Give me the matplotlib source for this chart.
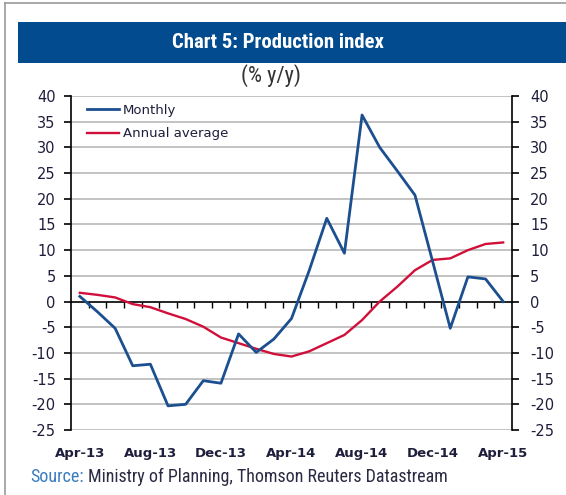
import matplotlib
matplotlib.use("Agg")
import matplotlib.pyplot as plt
from matplotlib.patches import Rectangle
from matplotlib.lines import Line2D
from matplotlib import font_manager
import numpy as np

months = ["Apr-13", "May-13", "Jun-13", "Jul-13", "Aug-13", "Sep-13", "Oct-13", "Nov-13",
          "Dec-13", "Jan-14", "Feb-14", "Mar-14", "Apr-14", "May-14", "Jun-14", "Jul-14",
          "Aug-14", "Sep-14", "Oct-14", "Nov-14", "Dec-14", "Jan-15", "Feb-15", "Mar-15", "Apr-15"]
monthly = [1.0, -2.0, -5.2, -12.5, -12.2, -20.3, -20.0, -15.4, -15.9, -6.3, -9.9, -7.3, -3.3,
           6.0, 16.2, 9.4, 36.3, 30.0, 25.4, 20.7, 7.8, -5.2, 4.8, 4.4, 0.0]
annual = [1.7, 1.3, 0.8, -0.5, -1.1, -2.3, -3.4, -4.9, -7.0, -8.1, -9.2, -10.2, -10.7,
          -9.7, -8.1, -6.5, -3.6, 0.0, 2.9, 6.1, 8.1, 8.4, 10.0, 11.2, 11.5]
label_months = ["Apr-13", "Aug-13", "Dec-13", "Apr-14", "Aug-14", "Dec-14", "Apr-15"]
yticks = list(range(-25, 45, 5))

# pick a condensed / narrow font if one is installed
cond_name = None
cond_stretch = "normal"
names = {f.name for f in font_manager.fontManager.ttflist}
for pref in ["Roboto Condensed", "Liberation Sans Narrow", "Open Sans Condensed",
             "DejaVu Sans Condensed", "Noto Sans Condensed", "Arial Narrow"]:
    if pref in names:
        cond_name = pref
        break
if cond_name is None:
    for f in font_manager.fontManager.ttflist:
        if isinstance(f.stretch, str) and "condensed" in f.stretch:
            cond_name = f.name
            cond_stretch = f.stretch
            break
if cond_name is None:
    cond_name = "Roboto"
narrow = [cond_name, "DejaVu Sans"]
txt_col = "#1E1E3C"

W, H = 566, 495
fig = plt.figure(figsize=(W / 100, H / 100), dpi=100)
fig.patch.set_facecolor("white")

# outer frame
fig.add_artist(Line2D([5 / W, 5 / W], [0, 1 - 3 / H], color="#9A9A9A", lw=1.2))
fig.add_artist(Line2D([5 / W, 1], [1 - 3 / H, 1 - 3 / H], color="#9A9A9A", lw=1.2))

# title bar
fig.add_artist(Rectangle((18 / W, 1 - 63 / H), 1 - 18 / W, 41 / H,
                         transform=fig.transFigure, facecolor="#014B8E", edgecolor="none"))
title = fig.text(278 / W, 1 - 43 / H, "Chart 5: Production index", color="white",
                 fontsize=16, fontweight="bold", family=narrow, fontstretch=cond_stretch,
                 ha="center", va="center")
subtitle = fig.text(271 / W, 1 - 76 / H, "(% y/y)", color="#333333", fontsize=12,
                    family=narrow, fontstretch=cond_stretch, ha="center", va="center")

ax = fig.add_axes([71 / W, 1 - 430 / H, (512 - 71) / W, (430 - 96) / H])
x = np.arange(len(months))
ax.set_xlim(-0.5, len(months) - 0.5)
ax.set_ylim(-25, 40)

for v in yticks:
    if v != 0:
        ax.axhline(v, color="#BEBEBE", lw=1.3, zorder=1)

ax.plot(x, annual, color="#D0103A", lw=1.7, label="Annual average", zorder=3)
ax.plot(x, monthly, color="#1B4F8F", lw=2.0, label="Monthly", zorder=4)

ax.spines["top"].set_visible(False)
ax.spines["bottom"].set_visible(False)
ax.spines["right"].set_visible(False)
ax.spines["left"].set_color("black")
ax.spines["left"].set_linewidth(1.2)

ax.set_yticks(yticks)
ax.set_yticklabels([str(v) for v in yticks])
ax.tick_params(axis="y", direction="out", length=5, width=1.2, pad=6,
               labelsize=10.5, labelcolor=txt_col)

pos = [months.index(m) for m in label_months]
ax.set_xticks(pos)
ax.set_xticklabels(label_months, fontweight="bold")
ax.tick_params(axis="x", length=0, pad=12, labelsize=9.5, labelcolor=txt_col)

# zero axis line with category boundary ticks
sec = ax.secondary_xaxis(25 / 65)
sec.spines["bottom"].set_color("black")
sec.spines["bottom"].set_linewidth(1.2)
sec.set_xticks(np.arange(0.5, len(months) - 0.5, 1.0))
sec.tick_params(direction="out", length=4, width=1.0, labelbottom=False)

axr = ax.twinx()
axr.set_ylim(ax.get_ylim())
axr.set_yticks(yticks)
axr.set_yticklabels([str(v) for v in yticks])
for s in ["top", "bottom", "left"]:
    axr.spines[s].set_visible(False)
axr.spines["right"].set_color("black")
axr.spines["right"].set_linewidth(1.2)
axr.tick_params(axis="y", direction="out", length=5, width=1.2, pad=8,
                labelsize=10.5, labelcolor=txt_col)

h, l = ax.get_legend_handles_labels()
leg = ax.legend([h[1], h[0]], [l[1], l[0]], loc="upper left", bbox_to_anchor=(0.01, 1.012),
                frameon=False, fontsize=9.5, handlelength=2.4, handletextpad=0.3,
                labelspacing=0.8)
for t in leg.get_texts():
    t.set_color(txt_col)

src_size = 13
src1 = fig.text(30 / W, 1 - 477 / H, "Source:", color="#3A7DC0", fontsize=src_size,
                family=narrow, fontstretch=cond_stretch, ha="left", va="center")
fig.canvas.draw()
r = fig.canvas.get_renderer()
bb = src1.get_window_extent(renderer=r)
fig.text((bb.x1 + 4) / W, 1 - 477 / H, "Ministry of Planning, Thomson Reuters Datastream",
         color="#2A2A44", fontsize=src_size, family=narrow, fontstretch=cond_stretch,
         ha="left", va="center")

# fit title / subtitle widths to reference
tb = title.get_window_extent(renderer=r)
if tb.width > 0:
    title.set_fontsize(min(17, 16 * 212 / tb.width))
sb = subtitle.get_window_extent(renderer=r)
if sb.width > 0:
    subtitle.set_fontsize(min(16, 12 * 60 / sb.width))

fig.savefig("out.png", dpi=100)
